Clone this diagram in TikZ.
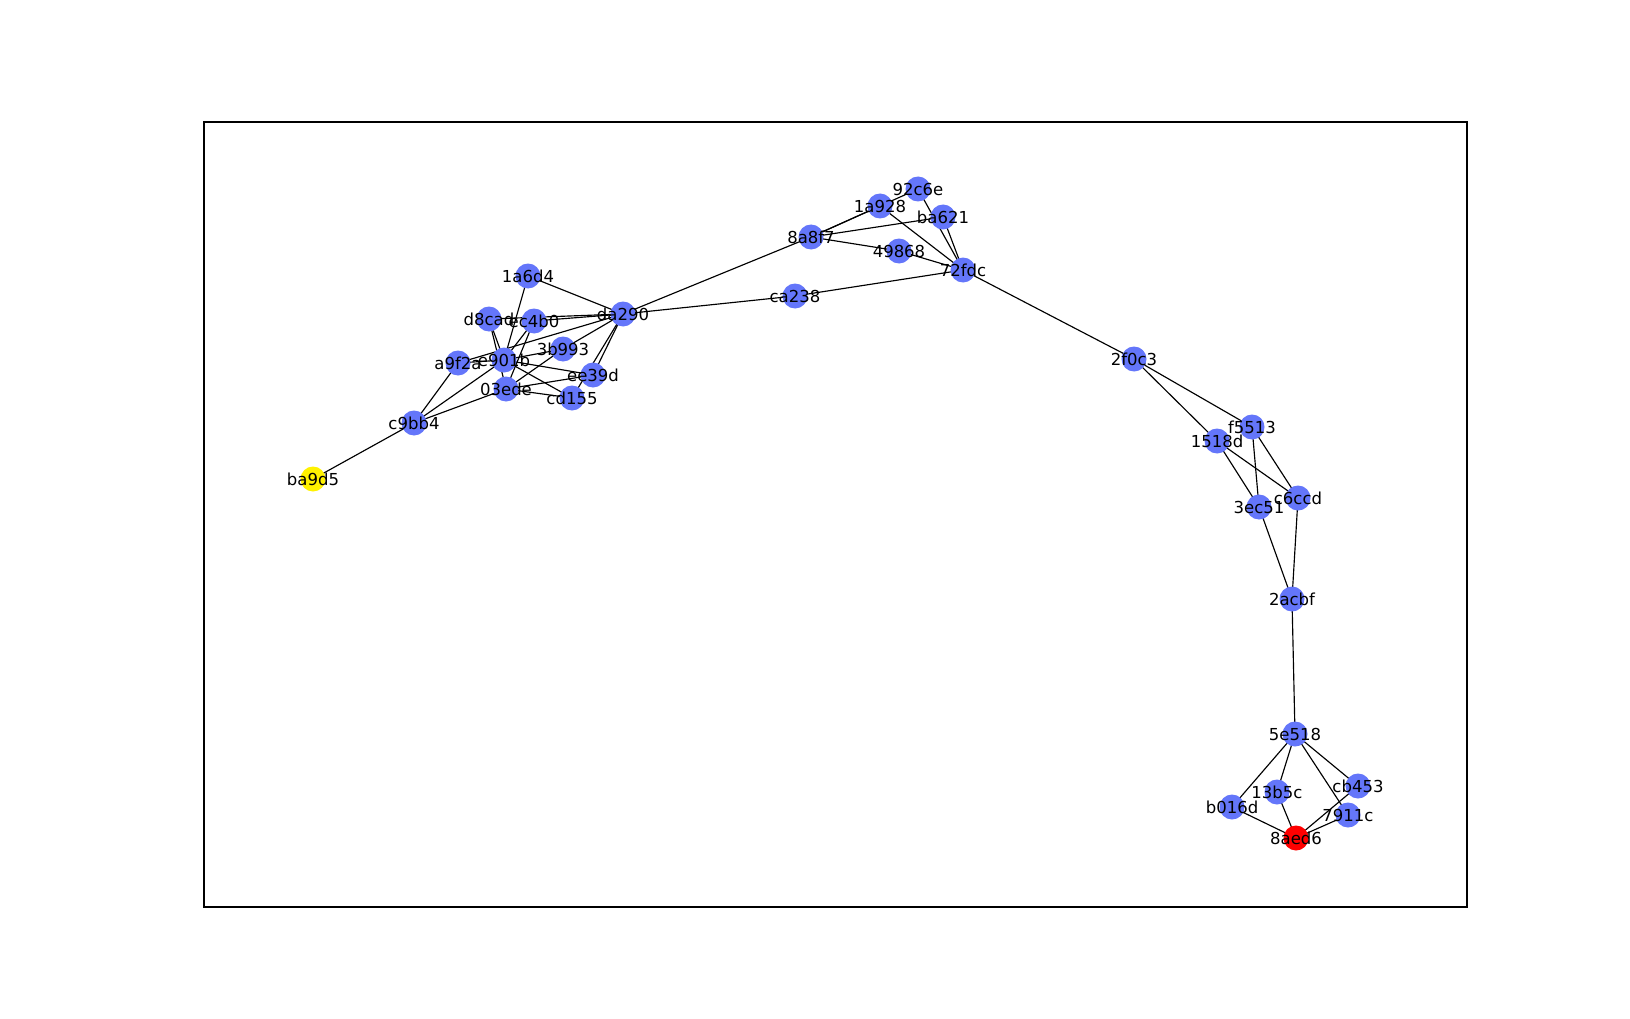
\documentclass[tikz,border=0pt]{standalone}
\usepackage{fontspec}
\setmainfont{DejaVu Sans}
\definecolor{nodeblue}{RGB}{100,118,250}
\begin{document}
\begin{tikzpicture}[x=1pt,y=-1pt,
  vtx/.style={circle,fill=nodeblue,draw=none,minimum size=25pt,inner sep=0pt},
  lbl/.style={font=\fontsize{16.5}{17}\selectfont,text=black,inner sep=0pt},
  edge/.style={line width=1.15pt,black}]
\useasboundingbox (0,0) rectangle (1630,1019);
\draw[line width=1.15pt] (204,122) rectangle (1467,907);
% node positions
\foreach \n/\x/\y in {ba9d5/313/479, c9bb4/414/423, a9f2a/458/363, d8cad/489/319, ec4b0/534/321,
  e901b/504/360, 3b993/563/349, 03ede/506/389, ee39d/593/375, cd155/572/398, 1a6d4/528/276,
  da290/623/314, ca238/795/296, 8a8f7/811/237, 1a928/880/206, 92c6e/918/189, ba621/943/217,
  49868/899/251, 72fdc/963/270, 2f0c3/1134/359, f5513/1252/427, 1518d/1217/441, c6ccd/1298/498,
  3ec51/1259/507, 2acbf/1292/599, 5e518/1295/734, 13b5c/1277/792, cb453/1358/786, b016d/1232/807,
  7911c/1348/815, 8aed6/1296/838}
  {\coordinate (\n) at (\x,\y);}
% edges
\foreach \a/\b in {ba9d5/c9bb4, c9bb4/a9f2a, c9bb4/e901b, c9bb4/03ede, a9f2a/e901b, a9f2a/da290,
  d8cad/e901b, d8cad/03ede, d8cad/da290, ec4b0/e901b, ec4b0/03ede, ec4b0/da290,
  1a6d4/e901b, 1a6d4/da290, e901b/3b993, e901b/ee39d, e901b/cd155, 03ede/3b993, 03ede/ee39d,
  03ede/cd155, 3b993/da290, ee39d/da290, cd155/da290, da290/8a8f7, da290/ca238, ca238/72fdc,
  8a8f7/1a928, 8a8f7/92c6e, 8a8f7/ba621, 8a8f7/49868, 49868/72fdc, 1a928/72fdc, 92c6e/72fdc,
  ba621/72fdc, 72fdc/2f0c3, 2f0c3/f5513, 2f0c3/1518d, f5513/3ec51, f5513/c6ccd, 1518d/3ec51,
  1518d/c6ccd, 3ec51/2acbf, c6ccd/2acbf, 2acbf/5e518, 5e518/b016d, 5e518/13b5c, 5e518/cb453,
  5e518/7911c, b016d/8aed6, 13b5c/8aed6, cb453/8aed6, 7911c/8aed6}
  {\draw[edge] (\a) -- (\b);}
% nodes
\foreach \n in {c9bb4, a9f2a, d8cad, ec4b0, e901b, 3b993, 03ede, ee39d, cd155, 1a6d4,
  da290, ca238, 8a8f7, 1a928, 92c6e, ba621, 49868, 72fdc, 2f0c3, f5513, 1518d, c6ccd,
  3ec51, 2acbf, 5e518, 13b5c, cb453, b016d, 7911c}
  {\node[vtx] (n\n) at (\n) {};}
\node[vtx,fill=yellow] (nba9d5) at (ba9d5) {};
\node[vtx,fill=red] (n8aed6) at (8aed6) {};
% labels
\foreach \n in {ba9d5, c9bb4, a9f2a, d8cad, ec4b0, e901b, 3b993, 03ede, ee39d, cd155, 1a6d4,
  da290, ca238, 8a8f7, 1a928, 92c6e, ba621, 49868, 72fdc, 2f0c3, f5513, 1518d, c6ccd,
  3ec51, 2acbf, 5e518, 13b5c, cb453, b016d, 7911c, 8aed6}
  {\node[lbl] (t\n) at (\n) {\n};}
\end{tikzpicture}
\end{document}
